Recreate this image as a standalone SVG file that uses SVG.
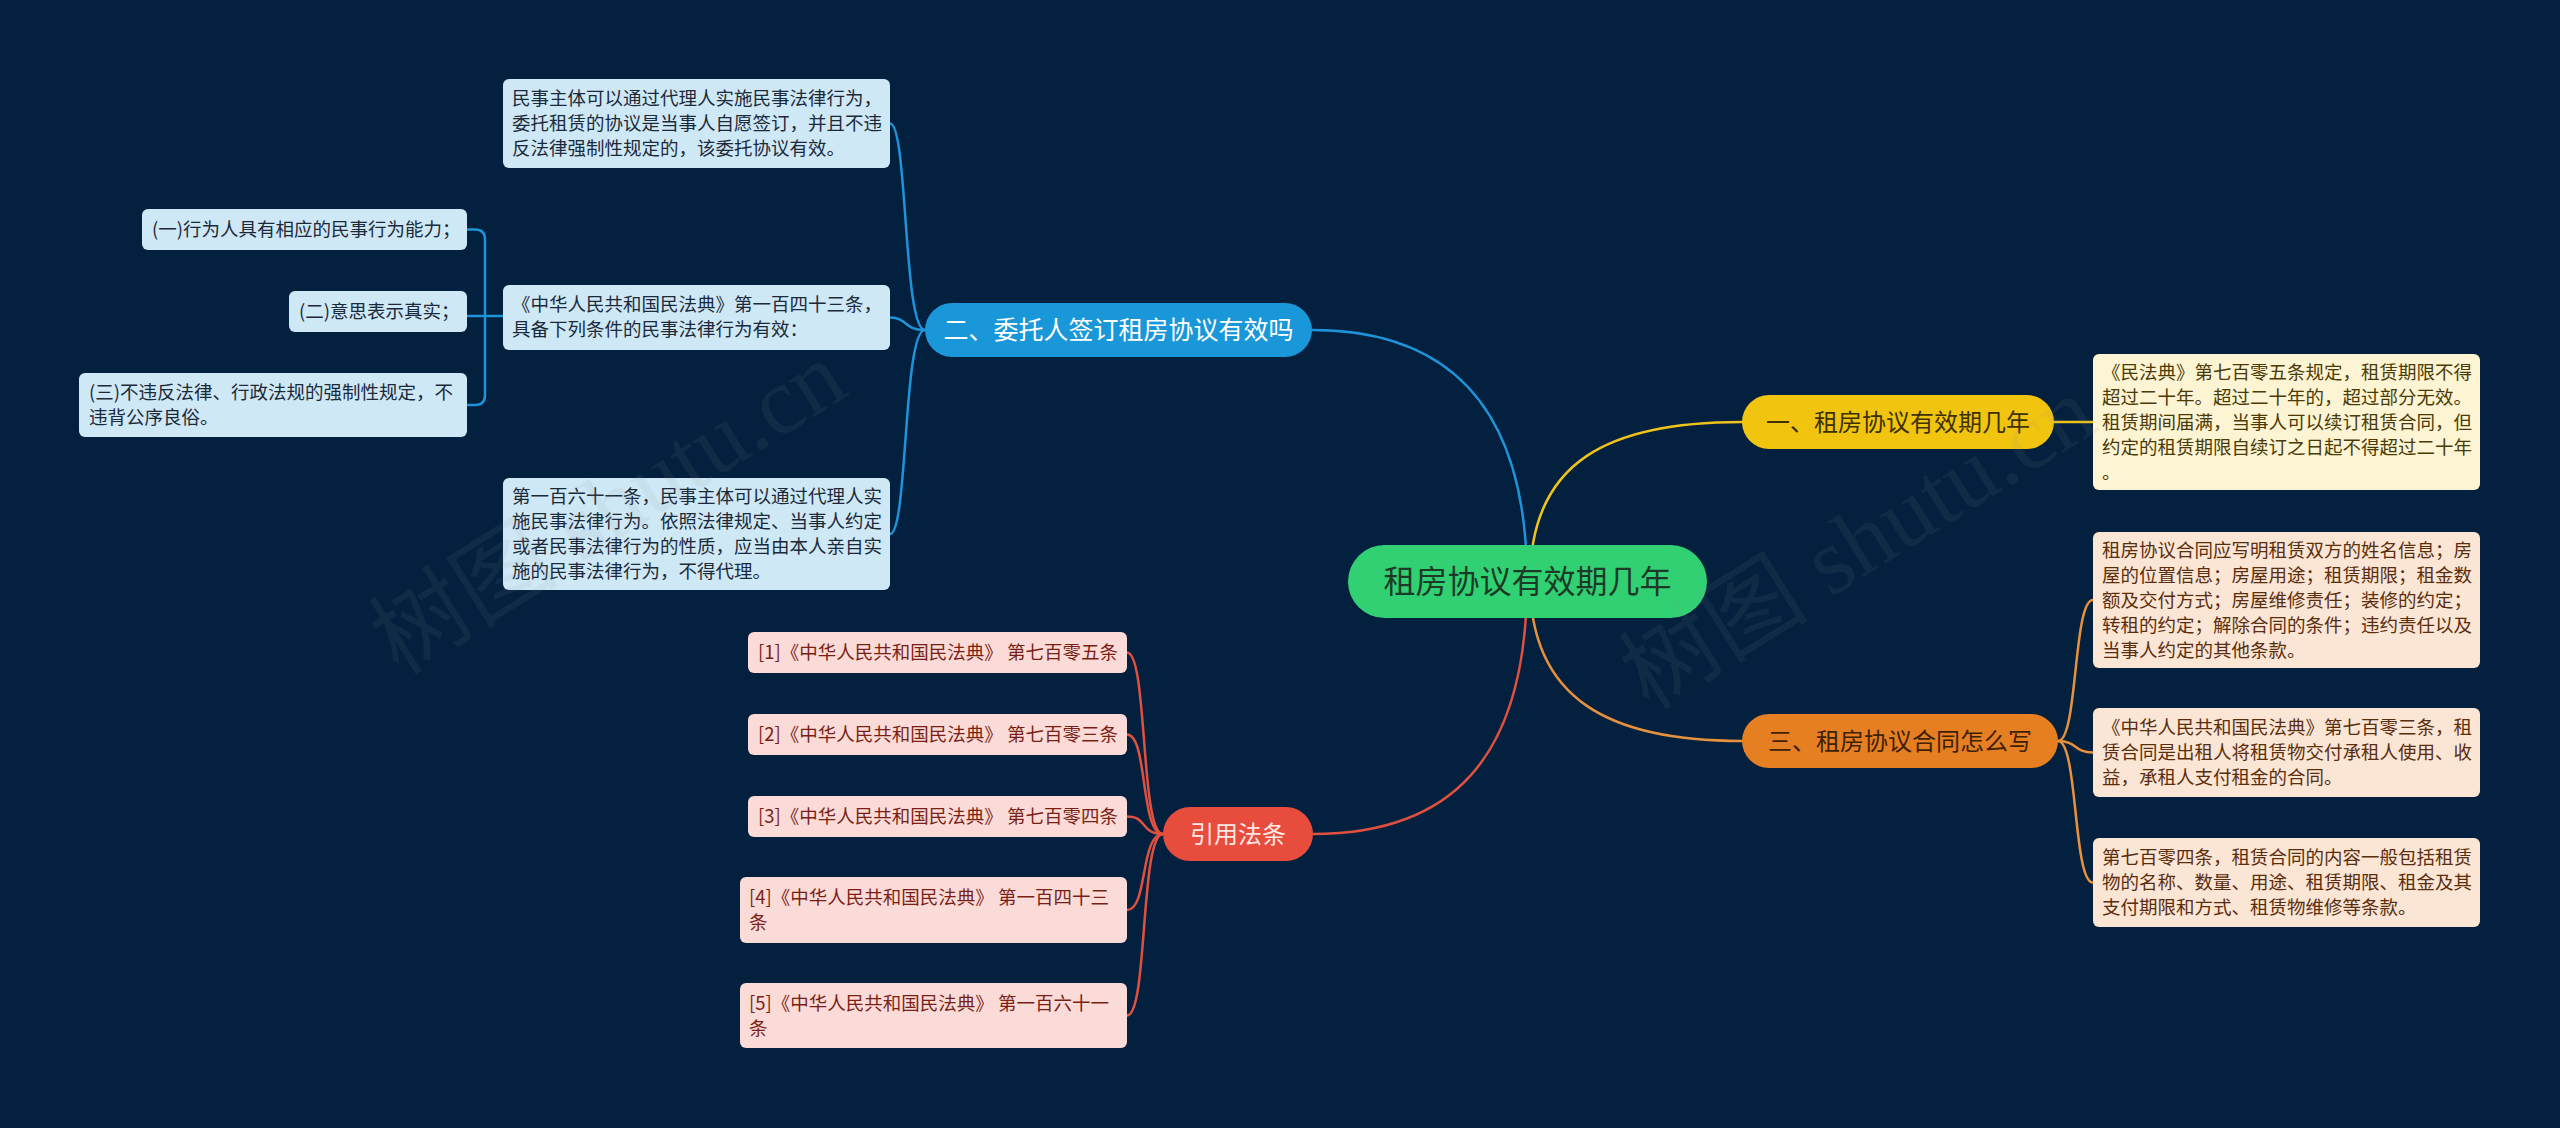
<svg xmlns="http://www.w3.org/2000/svg" width="2560" height="1128" viewBox="0 0 2560 1128">
<style>
text{font-family:"Noto Sans CJK SC","Noto Sans",sans-serif;}
.t{font-size:18.5px;}
.tr{font-size:18.5px;}
.c{fill:none;stroke-width:2.5;stroke-linecap:round;}
.cb{stroke:#1f93d9;}
.cy{stroke:#efc31a;}
.co{stroke:#e8913d;}
.cr{stroke:#e1503f;}
.lb{fill:#cfe8f6;}
.ly{fill:#fdf4d4;}
.lo{fill:#fbe5d5;}
.lr{fill:#fadbd8;}
.xb{fill:#1b2a3a;}
.xy{fill:#4a3a05;}
.xo{fill:#5a2d0c;}
.xr{fill:#7a1f16;}
.wm{font-family:"Liberation Serif","Noto Sans CJK SC",serif;font-size:95px;fill:#8c8c8c;opacity:0.09;}
</style>
<rect width="2560" height="1128" fill="#03213f"/>
<g id="connectors">
<path class="c cb" d="M1312 330 C1460 330 1527 420 1527 581" stroke-width="3"/>
<path class="c cy" d="M1530 581 C1530 460 1610 422 1742 422" stroke-width="3"/>
<path class="c co" d="M1530 581 C1530 700 1610 741 1742 741" stroke-width="3"/>
<path class="c cr" d="M1527 581 C1527 760 1450 834 1313 834" stroke-width="3"/>
<path class="c cb" d="M925 330 C903 330 908 123.5 890 123.5"/>
<path class="c cb" d="M925 330 C903 330 908 317.5 890 317.5"/>
<path class="c cb" d="M925 330 C903 330 908 534 890 534"/>
<path class="c cb" d="M503 316 H467"/>
<path class="c cb" d="M467 229.5 H475 Q485 229.5 485 239.5 V395 Q485 405 475 405 H467"/>
<path class="c cy" d="M2054 422 H2093"/>
<path class="c co" d="M2058 741 C2078 741 2073 600 2093 600"/>
<path class="c co" d="M2058 741 C2078 741 2073 752.5 2093 752.5"/>
<path class="c co" d="M2058 741 C2078 741 2073 882.5 2093 882.5"/>
<path class="c cr" d="M1163 834 C1140 834 1148 652.5 1127 652.5"/>
<path class="c cr" d="M1163 834 C1140 834 1148 734.5 1127 734.5"/>
<path class="c cr" d="M1163 834 C1140 834 1148 816.5 1127 816.5"/>
<path class="c cr" d="M1163 834 C1140 834 1148 910 1127 910"/>
<path class="c cr" d="M1163 834 C1140 834 1148 1015.5 1127 1015.5"/>
</g>
<g id="root">
<rect x="1348" y="545" width="359" height="73" rx="36.5" fill="#31d173"/>
<text x="1527.5" y="592.5" text-anchor="middle" font-size="32" fill="#1d3a28">租房协议有效期几年</text>
</g>
<g id="b2">
<rect x="925" y="303" width="387" height="54" rx="27" fill="#1997d9"/>
<text x="1118.5" y="338.5" text-anchor="middle" font-size="25" fill="#ffffff">二、委托人签订租房协议有效吗</text>
</g>
<g id="b1">
<rect x="1742" y="395" width="312" height="54" rx="27" fill="#f1c40f"/>
<text x="1898" y="430.5" text-anchor="middle" font-size="24" fill="#3d3102">一、租房协议有效期几年</text>
</g>
<g id="b3">
<rect x="1742" y="714" width="316" height="54" rx="27" fill="#e67e22"/>
<text x="1900" y="749.5" text-anchor="middle" font-size="24" fill="#3f2106">三、租房协议合同怎么写</text>
</g>
<g id="b4">
<rect x="1163" y="807" width="150" height="54" rx="27" fill="#e74c3c"/>
<text x="1238" y="842.5" text-anchor="middle" font-size="24" fill="#fde8e5">引用法条</text>
</g>
<g id="n2a">
<rect class="lb" x="503" y="79" width="387" height="89" rx="6"/>
<text class="t xb" x="512"><tspan x="512" y="105">民事主体可以通过代理人实施民事法律行为，</tspan><tspan x="512" y="130">委托租赁的协议是当事人自愿签订，并且不违</tspan><tspan x="512" y="155">反法律强制性规定的，该委托协议有效。</tspan></text>
</g>
<g id="n2b">
<rect class="lb" x="503" y="285" width="387" height="65" rx="6"/>
<text class="t xb"><tspan x="512" y="311">《中华人民共和国民法典》第一百四十三条，</tspan><tspan x="512" y="336">具备下列条件的民事法律行为有效：</tspan></text>
</g>
<g id="n2c">
<rect class="lb" x="503" y="478" width="387" height="112" rx="6"/>
<text class="t xb"><tspan x="512" y="503">第一百六十一条，民事主体可以通过代理人实</tspan><tspan x="512" y="528">施民事法律行为。依照法律规定、当事人约定</tspan><tspan x="512" y="553">或者民事法律行为的性质，应当由本人亲自实</tspan><tspan x="512" y="578">施的民事法律行为，不得代理。</tspan></text>
</g>
<g id="n2b1">
<rect class="lb" x="142" y="209" width="325" height="41" rx="6"/>
<text class="t xb" x="152" y="236">(一)行为人具有相应的民事行为能力；</text>
</g>
<g id="n2b2">
<rect class="lb" x="289" y="291" width="178" height="41" rx="6"/>
<text class="t xb" x="299" y="318">(二)意思表示真实；</text>
</g>
<g id="n2b3">
<rect class="lb" x="79" y="373" width="388" height="64" rx="6"/>
<text class="t xb"><tspan x="89" y="398.5">(三)不违反法律、行政法规的强制性规定，不</tspan><tspan x="89" y="423.5">违背公序良俗。</tspan></text>
</g>
<g id="n1a">
<rect class="ly" x="2093" y="354" width="387" height="136" rx="6"/>
<text class="t xy"><tspan x="2102" y="378.5">《民法典》第七百零五条规定，租赁期限不得</tspan><tspan x="2102" y="403.5">超过二十年。超过二十年的，超过部分无效。</tspan><tspan x="2102" y="428.5">租赁期间届满，当事人可以续订租赁合同，但</tspan><tspan x="2102" y="453.5">约定的租赁期限自续订之日起不得超过二十年</tspan><tspan x="2102" y="478.5">。</tspan></text>
</g>
<g id="n3a">
<rect class="lo" x="2093" y="532" width="387" height="136" rx="6"/>
<text class="t xo"><tspan x="2102" y="556.5">租房协议合同应写明租赁双方的姓名信息；房</tspan><tspan x="2102" y="581.5">屋的位置信息；房屋用途；租赁期限；租金数</tspan><tspan x="2102" y="606.5">额及交付方式；房屋维修责任；装修的约定；</tspan><tspan x="2102" y="631.5">转租的约定；解除合同的条件；违约责任以及</tspan><tspan x="2102" y="656.5">当事人约定的其他条款。</tspan></text>
</g>
<g id="n3b">
<rect class="lo" x="2093" y="708" width="387" height="89" rx="6"/>
<text class="t xo"><tspan x="2102" y="734">《中华人民共和国民法典》第七百零三条，租</tspan><tspan x="2102" y="759">赁合同是出租人将租赁物交付承租人使用、收</tspan><tspan x="2102" y="784">益，承租人支付租金的合同。</tspan></text>
</g>
<g id="n3c">
<rect class="lo" x="2093" y="838" width="387" height="89" rx="6"/>
<text class="t xo"><tspan x="2102" y="864">第七百零四条，租赁合同的内容一般包括租赁</tspan><tspan x="2102" y="889">物的名称、数量、用途、租赁期限、租金及其</tspan><tspan x="2102" y="914">支付期限和方式、租赁物维修等条款。</tspan></text>
</g>
<g id="r1">
<rect class="lr" x="748" y="632" width="379" height="41" rx="6"/>
<text class="tr xr" x="758" y="659">[1]《中华人民共和国民法典》 第七百零五条</text>
</g>
<g id="r2">
<rect class="lr" x="748" y="714" width="379" height="41" rx="6"/>
<text class="tr xr" x="758" y="741">[2]《中华人民共和国民法典》 第七百零三条</text>
</g>
<g id="r3">
<rect class="lr" x="748" y="796" width="379" height="41" rx="6"/>
<text class="tr xr" x="758" y="823">[3]《中华人民共和国民法典》 第七百零四条</text>
</g>
<g id="r4">
<rect class="lr" x="740" y="877" width="387" height="66" rx="6"/>
<text class="tr xr"><tspan x="749" y="904">[4]《中华人民共和国民法典》 第一百四十三</tspan><tspan x="749" y="929">条</tspan></text>
</g>
<g id="r5">
<rect class="lr" x="740" y="983" width="387" height="65" rx="6"/>
<text class="tr xr"><tspan x="749" y="1009.5">[5]《中华人民共和国民法典》 第一百六十一</tspan><tspan x="749" y="1034.5">条</tspan></text>
</g>
<text class="wm" transform="translate(625,535) rotate(-32)" text-anchor="middle">树图 shutu.cn</text>
<text class="wm" transform="translate(1875,570) rotate(-32)" text-anchor="middle">树图 shutu.cn</text>
</svg>
